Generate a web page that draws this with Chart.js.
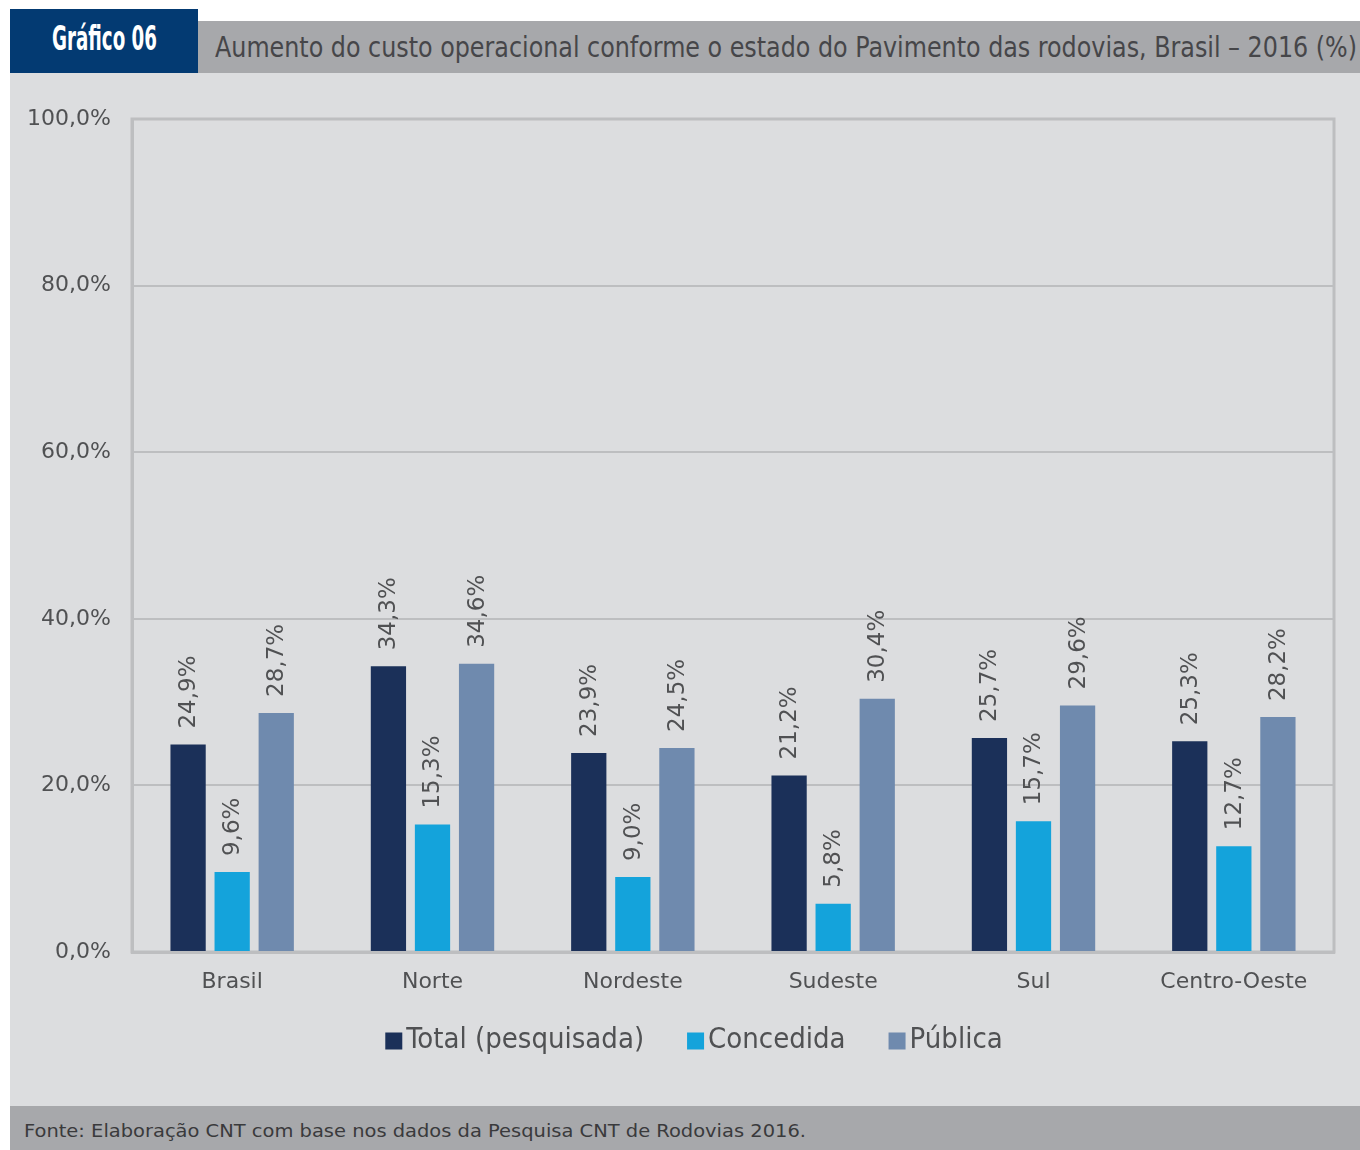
<!DOCTYPE html>
<html lang="pt-BR">
<head>
<meta charset="utf-8">
<title>Gráfico 06</title>
<script src="https://cdn.jsdelivr.net/npm/chart.js@4.4.1/dist/chart.umd.min.js"></script>
<style>
  body { margin: 0; background: #ffffff; }
  #page { position: relative; width: 1360px; height: 1150px; overflow: hidden; }
  #tag {
    position: absolute; left: 10px; top: 9px; width: 188px; height: 64px;
    background: #033a72;
  }
  #tag span {
    position: absolute; left: 42px; top: 11px;
    color: #ffffff; font: bold 34px "DejaVu Sans Condensed", sans-serif;
    line-height: 36px; transform-origin: left top; white-space: nowrap;
  }
  #titlebar {
    position: absolute; left: 198px; top: 21px; width: 1162px; height: 52px;
    background: #a7a8ab;
  }
  #titlebar span {
    position: absolute; left: 17px; top: 0;
    color: #464649; font: 29px "DejaVu Sans Condensed", sans-serif;
    line-height: 52px; transform-origin: left top; white-space: nowrap;
  }
  #panel {
    position: absolute; left: 10px; top: 73px; width: 1350px; height: 1033px;
    background: #dcdddf;
  }
  #footer {
    position: absolute; left: 10px; top: 1106px; width: 1350px; height: 44px;
    background: #a7a8ab;
  }
  #footer span {
    position: absolute; left: 14px; top: 0;
    color: #3a3a3c; font: 18px "DejaVu Sans", sans-serif;
    line-height: 50px; transform-origin: left top; white-space: nowrap;
  }
</style>
</head>
<body>
<div id="page">
  <div id="tag"><span data-w="105">Gráfico 06</span></div>
  <div id="titlebar"><span data-w="1142">Aumento do custo operacional conforme o estado do Pavimento das rodovias, Brasil – 2016 (%)</span></div>
  <div id="panel"><canvas id="chart" width="1350" height="1033"></canvas></div>
  <div id="footer"><span data-w="782">Fonte: Elaboração CNT com base nos dados da Pesquisa CNT de Rodovias 2016.</span></div>
</div>

<script>
// Regiões e valores (%)
const regioes = ['Brasil', 'Norte', 'Nordeste', 'Sudeste', 'Sul', 'Centro-Oeste'];
const totalPesquisada = [24.9, 34.3, 23.9, 21.2, 25.7, 25.3];
const concedida = [9.6, 15.3, 9.0, 5.8, 15.7, 12.7];
const publica = [28.7, 34.6, 24.5, 30.4, 29.6, 28.2];
const yTicks = [0, 20, 40, 60, 80, 100];

const corTexto = '#505153';
const corGrade = '#bdbec0';

// Ajusta a largura dos textos do cabeçalho e rodapé (fonte condensada)
document.querySelectorAll('[data-w]').forEach(el => {
    const w = el.getBoundingClientRect().width;
    el.style.transform = 'scaleX(' + (Number(el.dataset.w) / w) + ')';
});

// 24.9 -> "24,9%"
function formatPct(v) {
    return v.toFixed(1).replace('.', ',') + '%';
}

// Moldura cinza em volta da área do gráfico
const moldura = {
    id: 'moldura',
    beforeDatasetsDraw(chart) {
        const a = chart.chartArea;
        const ctx = chart.ctx;
        ctx.save();
        ctx.strokeStyle = corGrade;
        ctx.lineWidth = 3;
        ctx.strokeRect(a.left, a.top, a.right - a.left, a.bottom - a.top);
        ctx.restore();
    }
};

// Rótulos verticais em cima de cada barra
const rotulos = {
    id: 'rotulos',
    afterDatasetsDraw(chart) {
        const ctx = chart.ctx;
        ctx.save();
        ctx.fillStyle = corTexto;
        ctx.font = '23px "DejaVu Sans", sans-serif';
        ctx.textAlign = 'left';
        ctx.textBaseline = 'middle';
        chart.data.datasets.forEach((ds, i) => {
            chart.getDatasetMeta(i).data.forEach((bar, j) => {
                ctx.save();
                ctx.translate(bar.x, bar.y - 16);
                ctx.rotate(-Math.PI / 2);
                ctx.fillText(formatPct(ds.data[j]), 0, 1);
                ctx.restore();
            });
        });
        ctx.restore();
    }
};

// Legenda embaixo: quadrado colado no texto
const legenda = {
    id: 'legenda',
    afterDraw(chart) {
        const ctx = chart.ctx;
        const box = 17, gapTexto = 4, gapItem = 43;
        const centroX = 684, centroY = 967;
        ctx.save();
        ctx.font = '29px "DejaVu Sans Condensed", "DejaVu Sans", sans-serif';
        ctx.textBaseline = 'middle';
        ctx.textAlign = 'left';
        const itens = chart.data.datasets.map(ds => ({
            texto: ds.label,
            cor: ds.backgroundColor,
            largura: box + gapTexto + ctx.measureText(ds.label).width
        }));
        const total = itens.reduce((s, it) => s + it.largura, 0) + gapItem * (itens.length - 1);
        let x = centroX - total / 2;
        itens.forEach(it => {
            ctx.fillStyle = it.cor;
            ctx.fillRect(x, centroY - box / 2 + 1, box, box);
            ctx.fillStyle = corTexto;
            ctx.fillText(it.texto, x + box + gapTexto, centroY);
            x += it.largura + gapItem;
        });
        ctx.restore();
    }
};

const ctx = document.querySelector('#chart').getContext('2d');
const chart = new Chart(ctx, {
    type: 'bar',
    data: {
        labels: regioes,
        datasets: [
            { label: 'Total (pesquisada)', data: totalPesquisada, backgroundColor: '#1b3059' },
            { label: 'Concedida', data: concedida, backgroundColor: '#14a3db' },
            { label: 'Pública', data: publica, backgroundColor: '#6f8aae' }
        ]
    },
    options: {
        responsive: false,
        animation: false,
        layout: {
            padding: { left: 0, right: 26, top: 46, bottom: 100 }
        },
        datasets: {
            bar: { categoryPercentage: 0.66, barPercentage: 0.8 }
        },
        scales: {
            x: {
                grid: { display: false },
                border: { color: corGrade, width: 3 },
                ticks: {
                    color: corTexto,
                    padding: 9,
                    font: { family: '"DejaVu Sans", sans-serif', size: 22 }
                },
                afterFit: function (scale) { scale.height = 54; }
            },
            y: {
                min: 0,
                max: 100,
                afterBuildTicks: function (scale) {
                    scale.ticks = yTicks.map(v => ({ value: v }));
                },
                grid: { color: corGrade, lineWidth: 2, drawTicks: false },
                border: { color: corGrade, width: 3 },
                ticks: {
                    color: corTexto,
                    padding: 21,
                    font: { family: '"DejaVu Sans", sans-serif', size: 22 },
                    callback: v => formatPct(v)
                },
                afterFit: function (scale) { scale.width = 122; }
            }
        },
        plugins: {
            legend: { display: false },
            tooltip: { enabled: false }
        }
    },
    plugins: [moldura, rotulos, legenda]
});
</script>
</body>
</html>
